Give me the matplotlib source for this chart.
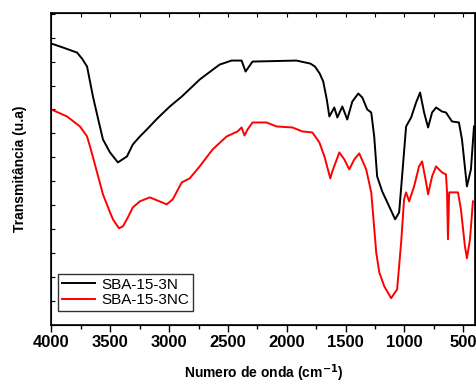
import matplotlib
matplotlib.use("Agg")
import matplotlib.pyplot as plt
from matplotlib.ticker import MultipleLocator, NullFormatter

plt.rcParams['font.family'] = ['Liberation Sans', 'DejaVu Sans']

# FTIR spectra, wavenumber (cm-1) vs transmittance (a.u.)
wn_3n = [4000, 3900, 3782, 3740, 3697, 3647, 3600, 3562, 3502, 3435, 3358,
         3308, 3248, 3189, 3100, 2994, 2892, 2820, 2740,
         2650, 2570, 2469, 2384, 2350, 2291, 1918, 1800, 1760, 1720, 1690,
         1660, 1638, 1596,
         1570, 1528, 1486, 1443, 1392, 1358, 1316, 1282, 1257, 1232, 1189,
         1130, 1079, 1045, 1020, 986, 943, 901, 867, 833, 799, 765, 731,
         681, 647, 596, 537, 511, 469, 435, 409]
t_3n = [282, 278, 273, 267, 259, 229, 205, 186, 173, 163, 169,
        181, 189, 196, 207, 219, 229, 237, 246,
        254, 261, 265, 265, 254, 264, 265, 262, 259, 252, 244,
        226, 209, 218,
        208, 219, 206, 224, 232, 228, 216, 213, 189, 149, 134,
        119, 106, 113, 149, 199, 208, 223, 233, 213, 198, 213, 218,
        214, 213, 204, 203, 186, 139, 156, 199]

wn_3nc = [4000, 3867, 3757, 3697, 3672, 3612, 3562, 3502, 3477, 3426, 3392,
          3350, 3308, 3248, 3164, 3020,
          2969, 2892, 2825, 2740, 2630, 2511, 2418, 2384, 2359, 2333, 2291,
          2172, 2087, 1952, 1867, 1782, 1723, 1680, 1630, 1613, 1553, 1511,
          1469, 1426, 1384, 1325, 1282, 1240, 1214, 1172, 1113, 1062, 1028,
          1003, 986, 960, 918, 876, 850, 816, 799, 765, 731, 681, 647, 638,
          630, 620, 588, 545, 520, 486, 469, 443, 418]
t_3nc = [216, 209, 199, 189, 179, 153, 131, 113, 106, 97, 99,
         108, 118, 124, 128, 121,
         126, 143, 147, 159, 176, 189, 194, 198, 190, 196, 203,
         203, 199, 198, 194, 193, 183, 169, 147, 154, 173, 166,
         156, 166, 172, 156, 133, 73, 53, 39, 27, 36, 83,
         126, 133, 124, 139, 159, 164, 143, 131, 149, 159, 153, 151, 133,
         86, 133, 133, 133, 116, 79, 67, 86, 124]

labels = ["SBA-15-3N", "SBA-15-3NC"]

fig = plt.figure(figsize=(4.76, 3.83), dpi=100)
ax = fig.add_axes([0.108, 0.151, 0.890, 0.816])

ax.plot(wn_3n, t_3n, color="black", lw=1.4, label=labels[0])
ax.plot(wn_3nc, t_3nc, color="red", lw=1.4, label=labels[1])

ax.set_xlim(4000, 400)
ax.set_ylim(0, 313)

ax.xaxis.set_major_locator(MultipleLocator(500))
ax.xaxis.set_minor_locator(MultipleLocator(250))
ax.yaxis.set_major_locator(MultipleLocator(24))
ax.yaxis.set_major_formatter(NullFormatter())
ax.tick_params(axis="x", which="major", direction="out", length=5, width=1,
               labelsize=12, pad=2)
ax.tick_params(axis="x", which="minor", direction="out", length=3, width=1)
ax.tick_params(axis="y", which="major", direction="in", length=3, width=0.8)
for lab in ax.get_xticklabels():
    lab.set_fontweight("bold")
for s in ax.spines.values():
    s.set_linewidth(1.2)

# top axis: inward ticks, no labels
top = ax.twiny()
top.set_xlim(ax.get_xlim())
top.xaxis.set_major_locator(MultipleLocator(250))
top.xaxis.set_major_formatter(NullFormatter())
top.tick_params(axis="x", direction="in", length=3, width=0.8)

ax.set_xlabel("Numero de onda (cm$^{\\mathbf{-1}}$)", fontsize=10, fontweight="bold", labelpad=9)
ax.set_ylabel("Transmitância (u.a)", fontsize=10, fontweight="bold", labelpad=14)

leg = ax.legend(loc="lower left", bbox_to_anchor=(0.015, 0.045), fontsize=11,
                frameon=True, fancybox=False, edgecolor="black", handlelength=2.2,
                borderpad=0.25, labelspacing=0.1, handletextpad=0.4, borderaxespad=0)
leg.get_frame().set_linewidth(1)

fig.savefig("out.png", dpi=100)
